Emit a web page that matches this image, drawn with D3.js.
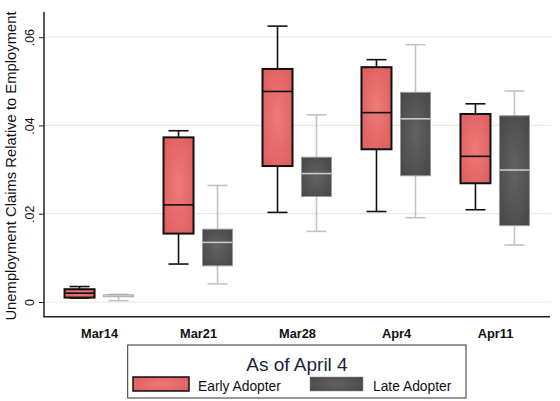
<!DOCTYPE html>
<html><head><meta charset="utf-8">
<script src="https://cdn.jsdelivr.net/npm/d3@7"></script>
<style>body{margin:0;background:#fff}svg{display:block}</style>
</head><body>
<script>
const categories = ["Mar14","Mar21","Mar28","Apr4","Apr11"];
const seriesNames = ["Early Adopter","Late Adopter"];
// [lower whisker, q1, median, q3, upper whisker]
const earlyStats = [
  [0.0009,0.0010,0.0020,0.0029,0.0035],
  [0.0086,0.0155,0.0220,0.0373,0.0388],
  [0.0203,0.0308,0.0477,0.0528,0.0625],
  [0.0205,0.0346,0.0429,0.0532,0.0549],
  [0.0209,0.0269,0.0330,0.0426,0.0449]
];
const lateStats = [
  [0.0003,0.0012,0.0014,0.0016,0.0017],
  [0.0041,0.0082,0.0135,0.0165,0.0264],
  [0.0160,0.0239,0.0291,0.0328,0.0424],
  [0.0191,0.0286,0.0415,0.0475,0.0583],
  [0.0129,0.0173,0.0299,0.0422,0.0478]
];
const yTicks = [0,0.02,0.04,0.06];
const yTickLabels = ["0",".02",".04",".06"];
const legendTitle = "As of April 4";
const yTitle = "Unemployment Claims Relative to Employment";

const W=560,H=401;
const svg=d3.select("body").append("svg").attr("width",W).attr("height",H);
const defs=svg.append("defs");
function grad(id,c0,c1){
  const g=defs.append("radialGradient").attr("id",id).attr("cx","50%").attr("cy","50%").attr("r","70%");
  g.append("stop").attr("offset","0%").attr("stop-color",c0);
  g.append("stop").attr("offset","100%").attr("stop-color",c1);
}
grad("gEarly","#ef7b79","#dc5c5c");
grad("gLate","#636363","#464646");

const x=d3.scalePoint().domain(categories).range([44,550]).padding(0.556);
const y=d3.scaleLinear().domain([-0.00333,0.0657]).range([316.7,12]);

// gridlines
svg.append("g").selectAll("line").data(yTicks).join("line")
  .attr("x1",45).attr("x2",551).attr("y1",d=>y(d)).attr("y2",d=>y(d))
  .attr("stroke","#e9e9e9").attr("stroke-width",1.2);

// boxes
const bw=30, off=19.5, cap=20;
const groups=[
  {stats:earlyStats,dx:-off,fill:"url(#gEarly)",stroke:"#111",sw:2,wh:"#111",med:"#111"},
  {stats:lateStats,dx:off,fill:"url(#gLate)",stroke:"#9a9a9a",sw:1,wh:"#c4c4c4",med:"#c8c8c8"}
];
groups.forEach(gp=>{
  const g=svg.append("g");
  gp.stats.forEach((s,i)=>{
    const cx=x(categories[i])+gp.dx;
    g.append("line").attr("x1",cx).attr("x2",cx).attr("y1",y(s[0])).attr("y2",y(s[1])).attr("stroke",gp.wh).attr("stroke-width",1.6);
    g.append("line").attr("x1",cx).attr("x2",cx).attr("y1",y(s[3])).attr("y2",y(s[4])).attr("stroke",gp.wh).attr("stroke-width",1.6);
    g.append("line").attr("x1",cx-cap/2).attr("x2",cx+cap/2).attr("y1",y(s[0])).attr("y2",y(s[0])).attr("stroke",gp.wh).attr("stroke-width",1.6);
    g.append("line").attr("x1",cx-cap/2).attr("x2",cx+cap/2).attr("y1",y(s[4])).attr("y2",y(s[4])).attr("stroke",gp.wh).attr("stroke-width",1.6);
    g.append("rect").attr("x",cx-bw/2).attr("y",y(s[3])).attr("width",bw).attr("height",Math.max(1,y(s[1])-y(s[3])))
      .attr("fill",gp.fill).attr("stroke",gp.stroke).attr("stroke-width",gp.sw);
    g.append("line").attr("x1",cx-bw/2).attr("x2",cx+bw/2).attr("y1",y(s[2])).attr("y2",y(s[2])).attr("stroke",gp.med).attr("stroke-width",1.6);
  });
});

// axes
const yAxis=svg.append("g").attr("transform","translate(44,0)")
  .call(d3.axisLeft(y).tickValues(yTicks).tickFormat((d,i)=>yTickLabels[i]).tickSize(5).tickSizeOuter(0));
yAxis.select(".domain").remove();
yAxis.append("line").attr("x1",0).attr("x2",0).attr("y1",12).attr("y2",317).attr("stroke","#222").attr("stroke-width",1.5);
yAxis.selectAll(".tick line").attr("stroke","#222");
yAxis.selectAll(".tick text").attr("transform","rotate(-90)").attr("x",0).attr("y",-10)
  .attr("dy","0").attr("text-anchor","middle").attr("fill","#111")
  .style("font-family","'Liberation Sans',Arial,sans-serif").style("font-size","12.5px");

const xAxis=svg.append("g").attr("transform","translate(0,316.7)")
  .call(d3.axisBottom(x).tickSize(0).tickPadding(12));
xAxis.select(".domain").remove();
xAxis.append("line").attr("x1",43.3).attr("x2",550).attr("y1",0).attr("y2",0).attr("stroke","#222").attr("stroke-width",1.5);
xAxis.selectAll(".tick text").attr("fill","#111")
  .style("font-family","'Liberation Sans',Arial,sans-serif").style("font-size","12.8px").style("font-weight","bold");

svg.append("text").attr("transform","translate(16,166) rotate(-90)").attr("text-anchor","middle")
  .style("font-family","'Liberation Sans',Arial,sans-serif").style("font-size","14.8px").attr("fill","#111")
  .text(yTitle);

// legend
const lg=svg.append("g");
lg.append("rect").attr("x",127.7).attr("y",345).attr("width",338.3).attr("height",53)
  .attr("fill","#fff").attr("stroke","#333").attr("stroke-width",1);
lg.append("text").attr("x",297).attr("y",371).attr("text-anchor","middle")
  .style("font-family","'Liberation Sans',Arial,sans-serif").style("font-size","19px").attr("fill","#1a2236").text(legendTitle);
const legItems=[
  {name:seriesNames[0],x:133,w:56,tx:198,fill:"url(#gEarly)",stroke:"#111",sw:1.5},
  {name:seriesNames[1],x:310,w:53,tx:373,fill:"url(#gLate)",stroke:"#888",sw:0.5}
];
legItems.forEach(d=>{
  lg.append("rect").attr("x",d.x).attr("y",377).attr("width",d.w).attr("height",14)
    .attr("fill",d.fill).attr("stroke",d.stroke).attr("stroke-width",d.sw);
  lg.append("text").attr("x",d.tx).attr("y",390.5).style("font-family","'Liberation Sans',Arial,sans-serif")
    .style("font-size","13.8px").attr("fill","#111").text(d.name);
});
</script>
</body></html>
